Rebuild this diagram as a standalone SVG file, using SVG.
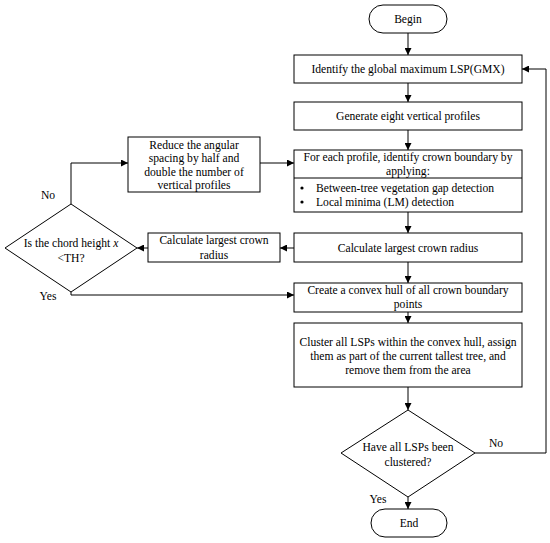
<svg xmlns="http://www.w3.org/2000/svg" width="550" height="543" viewBox="0 0 550 543">
<defs>
<marker id="ah" viewBox="0 0 10 10" refX="10" refY="5" markerWidth="7" markerHeight="7" markerUnits="userSpaceOnUse" orient="auto">
<path d="M0,0 L10,5 L0,10 z" fill="#000"/>
</marker>
<style>
.s{fill:#fff;stroke:#000;stroke-width:1}
.t{font-family:"Liberation Serif","Times New Roman",serif;font-size:11.6px;fill:#000;text-anchor:middle;dominant-baseline:central}
.l{text-anchor:start}
.c{fill:none;stroke:#000;stroke-width:1;marker-end:url(#ah)}
.p{fill:none;stroke:#000;stroke-width:1}
</style>
</defs>
<rect width="550" height="543" fill="#fff"/>
<g id="connectors">
<path class="c" d="M408,33 V55"/>
<path class="c" d="M408,83 V102"/>
<path class="c" d="M408,130 V150"/>
<path class="c" d="M408,212 V233"/>
<path class="c" d="M408,262 V283"/>
<path class="c" d="M408,312 V323"/>
<path class="c" d="M408,387 V410"/>
<path class="c" d="M408,497 V509"/>
<path class="c" d="M475,453 H546 V69 H522"/>
<path class="c" d="M260,163 H294"/>
<path class="c" d="M294,248 H280"/>
<path class="c" d="M148,248 H137"/>
<path class="c" d="M71,204 V163 H128"/>
<path class="c" d="M71,292 V295 H294"/>
</g>
<g id="begin"><rect class="s" x="369" y="5" width="78" height="28" rx="14"/><text class="t" x="408" y="19">Begin</text></g>
<g id="identify"><rect class="s" x="294" y="55" width="228" height="28"/><text class="t" x="408" y="69">Identify the global maximum LSP(GMX)</text></g>
<g id="generate"><rect class="s" x="294" y="102" width="228" height="28"/><text class="t" x="408" y="116">Generate eight vertical profiles</text></g>
<g id="foreach"><rect class="s" x="294" y="150" width="228" height="62"/><line class="p" x1="294" y1="178" x2="522" y2="178"/>
<text class="t" x="408" y="157">For each profile, identify crown boundary by</text>
<text class="t" x="408" y="171">applying:</text>
<circle cx="302" cy="188" r="1.6"/><circle cx="302" cy="202" r="1.6"/>
<text class="t l" x="316" y="188">Between-tree vegetation gap detection</text>
<text class="t l" x="316" y="202">Local minima (LM) detection</text></g>
<g id="calc"><rect class="s" x="294" y="233" width="228" height="29"/><text class="t" x="408" y="248">Calculate largest crown radius</text></g>
<g id="hull"><rect class="s" x="294" y="283" width="228" height="29"/><text class="t" x="408" y="290">Create a convex hull of all crown boundary</text><text class="t" x="408" y="304">points</text></g>
<g id="cluster"><rect class="s" x="294" y="323" width="228" height="64"/><text class="t" x="408" y="342">Cluster all LSPs within the convex hull, assign</text><text class="t" x="408" y="356">them as part of the current tallest tree, and</text><text class="t" x="408" y="370">remove them from the area</text></g>
<g id="allclustered"><polygon class="s" points="408,410 475,453 408,497 341,453"/><text class="t" x="408" y="447">Have all LSPs been</text><text class="t" x="408" y="462">clustered?</text></g>
<g id="end"><rect class="s" x="371" y="509" width="76" height="28" rx="14"/><text class="t" x="409" y="523">End</text></g>
<g id="reduce"><rect class="s" x="128" y="137" width="132" height="55"/><text class="t" x="194" y="145">Reduce the angular</text><text class="t" x="194" y="158">spacing by half and</text><text class="t" x="194" y="172">double the number of</text><text class="t" x="194" y="185">vertical profiles</text></g>
<g id="calc2"><rect class="s" x="148" y="233" width="132" height="29"/><text class="t" x="214" y="240">Calculate largest crown</text><text class="t" x="214" y="255">radius</text></g>
<g id="chord"><polygon class="s" points="71,204 137,248 71,292 5,248"/><text class="t" x="71" y="243">Is the chord height <tspan font-style="italic">x</tspan></text><text class="t" x="71" y="258">&lt;TH?</text></g>
<g id="labels">
<text class="t" x="48" y="195">No</text>
<text class="t" x="48" y="296">Yes</text>
<text class="t" x="496" y="443">No</text>
<text class="t" x="378" y="499">Yes</text>
</g>
</svg>
